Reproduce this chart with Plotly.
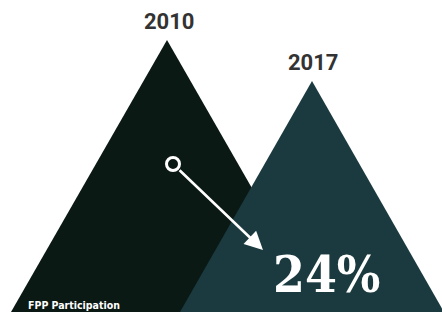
import plotly.graph_objects as go

years = ["2010", "2017"]
peak_heights = [272, 231]
change_label = "24%"
caption = "FPP Participation"

W, H = 442, 312
dark = "#0b1915"
teal = "#1b3a3f"

# geometry (pixel-like coordinates, y up)
peaks_x = [167, 312]
half_base = [156, 132]
fills = [dark, teal]

fig = go.Figure()
for px, h, hb, col in zip(peaks_x, peak_heights, half_base, fills):
    fig.add_trace(go.Scatter(
        x=[px - hb, px, px + hb, px - hb], y=[0, h, 0, 0],
        fill="toself", fillcolor=col, mode="lines",
        line=dict(width=0, color=col), hoverinfo="skip", showlegend=False))

label_x = [169, 313]
label_y = [291, 250]
for yr, lx, ly in zip(years, label_x, label_y):
    fig.add_annotation(x=lx, y=ly, text="<b>%s</b>" % yr, showarrow=False,
                       font=dict(family="Roboto", size=22, color="#333333"),
                       xanchor="center", yanchor="middle")

# arrow
fig.add_annotation(x=263, y=62, ax=173, ay=148, xref="x", yref="y", axref="x", ayref="y",
                   text="", showarrow=True, arrowhead=2, arrowsize=1.4, arrowwidth=2.6,
                   arrowcolor="white", standoff=0, startstandoff=7)
fig.add_trace(go.Scatter(x=[173], y=[148], mode="markers",
                         marker=dict(symbol="circle", size=13, color=dark,
                                     line=dict(color="white", width=3)),
                         hoverinfo="skip", showlegend=False))

fig.add_annotation(x=326, y=38, text="<b>%s</b>" % change_label, showarrow=False,
                   font=dict(family="DejaVu Serif Condensed, DejaVu Serif", size=51, color="white"),
                   xanchor="center", yanchor="middle")
fig.add_annotation(x=26, y=7, text="<b>%s</b>" % caption, showarrow=False,
                   font=dict(family="DejaVu Sans Condensed, Roboto", size=10.5, color="white"),
                   xanchor="left", yanchor="middle")

fig.update_layout(width=W, height=H, margin=dict(l=0, r=0, t=0, b=0),
                  paper_bgcolor="white", plot_bgcolor="white",
                  xaxis=dict(range=[0, W], visible=False, fixedrange=True),
                  yaxis=dict(range=[0, H], visible=False, fixedrange=True))
fig.write_html("out.html", config={"displayModeBar": False},
               post_script="document.body.style.margin='0';document.body.style.overflow='hidden';")
